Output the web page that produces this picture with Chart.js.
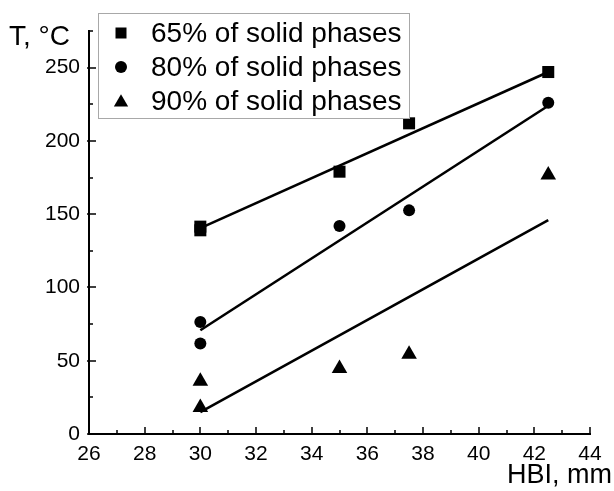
<!DOCTYPE html>
<html>
<head>
<meta charset="utf-8">
<script src="https://cdn.jsdelivr.net/npm/chart.js@4.4.0/dist/chart.umd.min.js"></script>
<style>
  html, body { margin: 0; padding: 0; background: #fff; }
  #wrap { width: 614px; height: 491px; }
</style>
</head>
<body>
<div id="wrap"><canvas id="chart" width="614" height="491"></canvas></div>
<script>
// measured points (HBI, mm -> T, °C)
const hbi = [30, 30, 35, 37.5, 42.5];
const temp65 = [141.5, 139, 179, 212, 247];
const temp80 = [76.5, 61.7, 142, 152.6, 226];
const temp90 = [36, 18, 44.7, 54.5, 176.7];

// fitted lines, read at both ends
const fitX = [30, 42.5];
const fit65 = [140.5, 247];
const fit80 = [70.8, 224];
const fit90 = [15, 146];

const seriesLabels = ['65% of solid phases', '80% of solid phases', '90% of solid phases'];

const xMajor = [26, 28, 30, 32, 34, 36, 38, 40, 42, 44];
const xMinor = [27, 29, 31, 33, 35, 37, 39, 41, 43];
const yMajor = [0, 50, 100, 150, 200, 250];
const yMinor = [25, 75, 125, 175, 225, 275];

const FONT = '"Liberation Sans", Arial, sans-serif';

function toPoints(xs, ys) {
    return xs.map((x, i) => ({ x: x, y: ys[i] }));
}

function marks(data, style, radius) {
    return {
        data: data,
        showLine: false,
        pointStyle: style,
        pointRadius: radius,
        pointHoverRadius: radius,
        pointBackgroundColor: '#000',
        pointBorderColor: '#000',
        pointBorderWidth: 0
    };
}

function fitLine(data) {
    return {
        data: data,
        showLine: true,
        pointRadius: 0,
        borderColor: '#000',
        borderWidth: 2.6,
        fill: false
    };
}

function drawSymbol(ctx, style, x, y, r) {
    ctx.beginPath();
    if (style === 'rect') {
        ctx.rect(x - r, y - r, 2 * r, 2 * r);
    } else if (style === 'circle') {
        ctx.arc(x, y, r, 0, Math.PI * 2);
    } else {
        ctx.moveTo(x, y - r * 1.05);
        ctx.lineTo(x + r * 1.1, y + r * 0.85);
        ctx.lineTo(x - r * 1.1, y + r * 0.85);
        ctx.closePath();
    }
    ctx.fill();
}

const decorations = {
    id: 'decorations',
    afterDraw(chart) {
        const ctx = chart.ctx;
        const area = chart.chartArea;
        const xs = chart.scales.x;
        const ys = chart.scales.y;
        ctx.save();
        ctx.strokeStyle = '#000';
        ctx.fillStyle = '#000';
        ctx.lineWidth = 1.5;

        // inward tick marks
        ctx.beginPath();
        xMajor.forEach(v => {
            const px = Math.round(xs.getPixelForValue(v));
            ctx.moveTo(px, area.bottom); ctx.lineTo(px, area.bottom - 7);
        });
        xMinor.forEach(v => {
            const px = Math.round(xs.getPixelForValue(v));
            ctx.moveTo(px, area.bottom); ctx.lineTo(px, area.bottom - 4);
        });
        yMajor.forEach(v => {
            const py = Math.round(ys.getPixelForValue(v));
            ctx.moveTo(area.left - 2, py); ctx.lineTo(area.left + 7, py);
        });
        yMinor.forEach(v => {
            const py = Math.round(ys.getPixelForValue(v));
            ctx.moveTo(area.left, py); ctx.lineTo(area.left + 4, py);
        });
        ctx.stroke();

        // axis titles
        ctx.textBaseline = 'alphabetic';
        ctx.font = '28px ' + FONT;
        ctx.textAlign = 'left';
        ctx.fillText('T, °C', 9, 45);
        ctx.font = '27px ' + FONT;
        ctx.textAlign = 'right';
        ctx.fillText('HBI, mm', 612, 483);

        // legend box
        ctx.fillStyle = '#fff';
        ctx.fillRect(98, 13, 312, 106);
        ctx.strokeStyle = '#a8a8a8';
        ctx.lineWidth = 1;
        ctx.strokeRect(98.5, 13.5, 311, 105);
        const styles = ['rect', 'circle', 'triangle'];
        const rows = [33, 67, 101];
        const sizes = [5.5, 6, 6.5];
        ctx.fillStyle = '#000';
        ctx.font = '28px ' + FONT;
        ctx.textAlign = 'left';
        ctx.textBaseline = 'middle';
        seriesLabels.forEach((label, i) => {
            drawSymbol(ctx, styles[i], 121, rows[i], sizes[i]);
            ctx.fillText(label, 151, rows[i] + 1);
        });
        ctx.restore();
    }
};

new Chart(document.getElementById('chart').getContext('2d'), {
    type: 'scatter',
    data: {
        datasets: [
            Object.assign(marks(toPoints(hbi, temp65), 'rect', 8.5), { label: seriesLabels[0] }),
            Object.assign(marks(toPoints(hbi, temp80), 'circle', 6), { label: seriesLabels[1] }),
            Object.assign(marks(toPoints(hbi, temp90), 'triangle', 9), { label: seriesLabels[2] }),
            fitLine(toPoints(fitX, fit65)),
            fitLine(toPoints(fitX, fit80)),
            fitLine(toPoints(fitX, fit90))
        ]
    },
    options: {
        responsive: false,
        animation: false,
        events: [],
        layout: { padding: { top: 31, right: 24, left: 0, bottom: 0 } },
        plugins: {
            legend: { display: false },
            tooltip: { enabled: false },
            title: { display: false }
        },
        scales: {
            x: {
                type: 'linear',
                min: 26,
                max: 44,
                grid: { display: false, drawTicks: false },
                border: { display: true, color: '#000', width: 2 },
                ticks: {
                    stepSize: 2,
                    padding: 8,
                    color: '#000',
                    font: { family: FONT, size: 21 }
                },
                afterFit(scale) { scale.height = 57; }
            },
            y: {
                type: 'linear',
                min: 0,
                max: 275,
                grid: { display: false, drawTicks: false },
                border: { display: true, color: '#000', width: 2 },
                ticks: {
                    stepSize: 50,
                    includeBounds: false,
                    padding: 9,
                    color: '#000',
                    font: { family: FONT, size: 21 }
                },
                afterFit(scale) { scale.width = 89; }
            }
        }
    },
    plugins: [decorations]
});
</script>
</body>
</html>
